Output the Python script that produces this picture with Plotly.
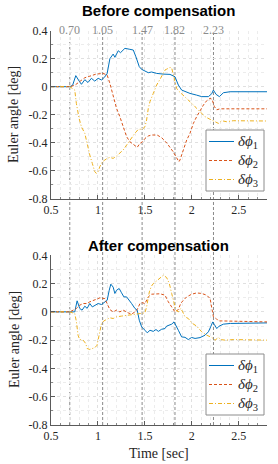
import plotly.graph_objects as go

# ---------------- data ----------------
event_times = [0.70, 1.05, 1.47, 1.82, 2.23]
event_labels = ["0.70", "1.05", "1.47", "1.82", "2.23"]

series_names = ["<i>δϕ</i><sub>1</sub>", "<i>δϕ</i><sub>2</sub>", "<i>δϕ</i><sub>3</sub>"]

# Before compensation
t1_top = [0.50, 0.70, 0.73, 0.764, 0.80, 0.824, 0.86, 0.894, 0.93, 0.966, 1.002, 1.037, 1.073, 1.098, 1.127, 1.162,
          1.18, 1.216, 1.24, 1.287, 1.34, 1.376, 1.404, 1.44, 1.465, 1.50, 1.536, 1.571, 1.625, 1.696, 1.767, 1.82,
          1.856, 1.891, 1.927, 1.98, 2.05, 2.105, 2.176, 2.212, 2.229, 2.258, 2.293, 2.336, 2.407, 2.55, 2.80]
v1_top = [0, 0, 0.01, 0.079, 0.04, 0.017, 0.05, 0.03, 0.06, 0.04, 0.06, 0.048, 0.07, 0.095, 0.20, 0.233,
          0.21, 0.257, 0.243, 0.274, 0.267, 0.262, 0.214, 0.143, 0.124, 0.11, 0.10, 0.105, 0.095, 0.09, 0.088, 0.071,
          0.012, -0.024, -0.036, -0.048, -0.06, -0.071, -0.071, -0.05, -0.024, -0.055, -0.071, -0.043, -0.036, -0.036, -0.036]

t2_top = [0.50, 0.70, 0.753, 0.80, 0.86, 0.913, 0.98, 1.055, 1.098, 1.127, 1.162, 1.198, 1.233, 1.269, 1.305, 1.34,
          1.393, 1.418, 1.447, 1.475, 1.50, 1.536, 1.571, 1.63, 1.68, 1.735, 1.80, 1.862, 1.873, 1.909, 1.945, 1.98,
          2.016, 2.051, 2.087, 2.123, 2.158, 2.194, 2.215, 2.24, 2.265, 2.30, 2.80]
v2_top = [0, 0, 0.01, 0.036, 0.064, 0.075, 0.09, 0.095, 0.083, 0.024, -0.071, -0.155, -0.214, -0.286, -0.357, -0.393,
          -0.424, -0.433, -0.405, -0.393, -0.37, -0.352, -0.345, -0.345, -0.365, -0.404, -0.464, -0.536, -0.524, -0.452,
          -0.381, -0.333, -0.262, -0.214, -0.167, -0.131, -0.10, -0.083, -0.09, -0.143, -0.165, -0.158, -0.158]

t3_top = [0.50, 0.70, 0.753, 0.77, 0.799, 0.824, 0.86, 0.885, 0.913, 0.94, 0.966, 0.984, 1.002, 1.02, 1.048, 1.073,
          1.098, 1.127, 1.162, 1.198, 1.233, 1.269, 1.305, 1.34, 1.393, 1.429, 1.475, 1.50, 1.518, 1.536, 1.554, 1.589,
          1.625, 1.66, 1.696, 1.714, 1.731, 1.749, 1.767, 1.785, 1.802, 1.82, 1.838, 1.856, 1.891, 1.927, 1.98, 2.034,
          2.087, 2.14, 2.194, 2.247, 2.283, 2.318, 2.37, 2.44, 2.80]
v3_top = [0, 0, -0.024, -0.119, -0.226, -0.286, -0.333, -0.417, -0.488, -0.548, -0.607, -0.619, -0.607, -0.571, -0.536,
          -0.524, -0.512, -0.505, -0.512, -0.495, -0.476, -0.452, -0.417, -0.381, -0.333, -0.305, -0.302, -0.286, -0.238,
          -0.155, -0.107, -0.048, 0.012, 0.052, 0.095, 0.119, 0.125, 0.131, 0.138, 0.134, 0.083, 0.024, -0.012, -0.029,
          -0.05, -0.071, -0.107, -0.143, -0.179, -0.214, -0.233, -0.25, -0.262, -0.243, -0.25, -0.243, -0.245]

# After compensation
t1_bot = [0.50, 0.70, 0.753, 0.778, 0.806, 0.831, 0.86, 0.885, 0.913, 0.94, 0.966, 1.002, 1.037, 1.073, 1.098, 1.12,
          1.137, 1.162, 1.18, 1.198, 1.226, 1.251, 1.276, 1.305, 1.329, 1.358, 1.394, 1.418, 1.44, 1.465, 1.50, 1.525,
          1.554, 1.589, 1.618, 1.643, 1.678, 1.714, 1.731, 1.785, 1.81, 1.83, 1.856, 1.891, 1.927, 1.962, 1.998, 2.034,
          2.087, 2.14, 2.176, 2.2, 2.222, 2.24, 2.265, 2.29, 2.336, 2.41, 2.80]
v1_bot = [0, 0, 0.0, 0.078, 0.024, 0.012, 0.04, 0.025, 0.059, 0.035, 0.047, 0.059, 0.052, 0.071, 0.082, 0.153,
          0.196, 0.175, 0.13, 0.153, 0.165, 0.135, 0.106, 0.106, 0.087, 0.059, 0.024, 0.012, -0.059, -0.106, -0.13,
          -0.148, -0.13, -0.138, -0.125, -0.138, -0.123, -0.118, -0.101, -0.087, -0.071, -0.094, -0.13, -0.177, -0.18,
          -0.196, -0.181, -0.188, -0.182, -0.165, -0.141, -0.106, -0.071, -0.09, -0.118, -0.101, -0.087, -0.082, -0.078]

t2_bot = [0.50, 0.70, 0.771, 0.806, 0.842, 0.877, 0.913, 0.966, 1.02, 1.073, 1.098, 1.127, 1.162, 1.198, 1.233, 1.269,
          1.322, 1.358, 1.394, 1.418, 1.447, 1.475, 1.50, 1.536, 1.571, 1.625, 1.66, 1.714, 1.749, 1.785, 1.82, 1.856,
          1.881, 1.909, 1.945, 1.998, 2.051, 2.105, 2.158, 2.194, 2.212, 2.229, 2.258, 2.283, 2.32, 2.41, 2.80]
v2_bot = [0, 0, 0.024, 0.047, 0.059, 0.059, 0.071, 0.087, 0.099, 0.094, 0.059, 0.016, 0.0, 0.012, 0.0, 0.012,
          -0.007, -0.016, 0.0, 0.016, 0.059, 0.065, 0.058, 0.106, 0.125, 0.13, 0.128, 0.118, 0.071, 0.035, 0.0, 0.016,
          0.059, 0.082, 0.106, 0.125, 0.134, 0.13, 0.118, 0.094, 0.024, -0.035, -0.047, -0.064, -0.064, -0.066, -0.071]

t3_bot = [0.50, 0.70, 0.753, 0.771, 0.788, 0.806, 0.842, 0.87, 0.885, 0.913, 0.94, 0.966, 0.99, 1.013, 1.038, 1.063,
          1.091, 1.127, 1.162, 1.198, 1.251, 1.305, 1.358, 1.411, 1.465, 1.50, 1.518, 1.533, 1.547, 1.568, 1.589, 1.625,
          1.66, 1.696, 1.731, 1.76, 1.785, 1.81, 1.83, 1.856, 1.881, 1.902, 1.927, 1.962, 1.998, 2.051, 2.105, 2.158,
          2.212, 2.247, 2.283, 2.308, 2.354, 2.44, 2.80]
v3_bot = [0, 0, -0.012, -0.071, -0.165, -0.196, -0.2, -0.224, -0.259, -0.266, -0.259, -0.254, -0.236, -0.165, -0.082,
          -0.064, -0.054, -0.042, -0.047, -0.035, -0.03, -0.024, -0.02, -0.012, -0.007, -0.007, 0.035, 0.09, 0.141, 0.18,
          0.2, 0.219, 0.236, 0.259, 0.243, 0.2, 0.13, 0.059, 0.012, 0.0, 0.024, 0.0, -0.035, -0.047, -0.078, -0.101,
          -0.141, -0.165, -0.181, -0.2, -0.181, -0.196, -0.2, -0.196, -0.2]

y_ticks = [-0.8, -0.6, -0.4, -0.2, 0, 0.2, 0.4]
y_ticktext = ["-0.8", "-0.6", "-0.4", "-0.2", "0", "0.2", "0.4"]
x_ticks = [0.5, 1, 1.5, 2, 2.5]
x_ticktext = ["0.5", "1", "1.5", "2", "2.5"]

# ---------------- styling ----------------
W, H = 278, 464
ML, MR = 51, 11
colors = ["#0072BD", "#D95319", "#EDB120"]
dashes = ["solid", "3px,2px", "4px,2px,1px,2px"]
SERIF = "Liberation Serif"
SANS = "Liberation Sans"

def py(px):  # pixel row -> paper fraction
    return 1 - px / H

def pxx(px):  # pixel column -> paper fraction (plot area)
    return (px - ML) / (W - ML - MR)

top_dom = [py(198.7), py(30.7)]
bot_dom = [py(425.0), py(255.3)]

fig = go.Figure()
top = [(t1_top, v1_top), (t2_top, v2_top), (t3_top, v3_top)]
bot = [(t1_bot, v1_bot), (t2_bot, v2_bot), (t3_bot, v3_bot)]
for i, (t, v) in enumerate(top):
    fig.add_trace(go.Scatter(x=t, y=v, mode="lines", name=series_names[i], showlegend=False,
                             line=dict(color=colors[i], width=1, dash=dashes[i]),
                             xaxis="x", yaxis="y"))
for i, (t, v) in enumerate(bot):
    fig.add_trace(go.Scatter(x=t, y=v, mode="lines", name=series_names[i], showlegend=False,
                             line=dict(color=colors[i], width=1, dash=dashes[i]),
                             xaxis="x2", yaxis="y2"))

axis_common = dict(showline=True, linecolor="#5a5a5a", linewidth=1, ticks="inside", ticklen=4,
                   tickcolor="#5a5a5a", showgrid=True, gridcolor="#e0e0e0", griddash="dot",
                   zeroline=False, mirror=False, automargin=False,
                   tickfont=dict(family=SERIF, size=12, color="#262626"))
minor_common = dict(dtick=0.1, showgrid=True, gridcolor="#ececec", griddash="dot",
                    ticks="inside", ticklen=2, tickcolor="#888888")
xa = dict(axis_common, range=[0.5, 2.8], tickvals=x_ticks, ticktext=x_ticktext, minor=minor_common)
ya = dict(axis_common, range=[-0.8, 0.4], tickvals=y_ticks, ticktext=y_ticktext, minor=minor_common)

shapes = []
annotations = []
for t, lab in zip(event_times, event_labels):
    shapes.append(dict(type="line", xref="x", yref="paper", x0=t, x1=t, y0=py(425), y1=py(33),
                       line=dict(color="#8a8a8a", width=1, dash="3px,2px"), layer="below"))
    annotations.append(dict(x=t, xref="x", y=py(29.5), yref="paper", text=lab, showarrow=False,
                            xanchor="center", yanchor="middle",
                            font=dict(family=SERIF, size=12, color="#8c8c8c")))

for txt, ypx in [("Before compensation", 10), ("After compensation", 245)]:
    annotations.append(dict(x=pxx(158), xref="paper", y=py(ypx), yref="paper", text=txt, showarrow=False,
                            xanchor="center", yanchor="middle",
                            font=dict(family=SANS, size=15, color="black", weight="bold")))
for ypx in [115, 340]:
    annotations.append(dict(x=pxx(14), xref="paper", y=py(ypx), yref="paper", text="Euler angle [deg]",
                            showarrow=False, textangle=-90, xanchor="center", yanchor="middle",
                            font=dict(family=SERIF, size=14, color="#262626")))
annotations.append(dict(x=pxx(159), xref="paper", y=py(453), yref="paper", text="Time [sec]", showarrow=False,
                        xanchor="center", yanchor="middle", font=dict(family=SERIF, size=14, color="#262626")))

# legends (box, line samples, labels) drawn in pixel-derived paper coordinates
for box_top in [130, 354]:
    shapes.append(dict(type="rect", xref="paper", yref="paper", x0=pxx(206), x1=pxx(264),
                       y0=py(box_top + 61), y1=py(box_top), fillcolor="white",
                       line=dict(color="#8c8c8c", width=1), layer="above"))
    for i in range(3):
        yy = box_top + 11.5 + 19 * i
        shapes.append(dict(type="line", xref="paper", yref="paper", x0=pxx(209), x1=pxx(234),
                           y0=py(yy), y1=py(yy), layer="above",
                           line=dict(color=colors[i], width=1, dash=dashes[i])))
        annotations.append(dict(x=pxx(235.5), xref="paper", y=py(yy), yref="paper", text=series_names[i],
                                showarrow=False, xanchor="left", yanchor="middle",
                                font=dict(family=SERIF, size=15, color="#262626")))

fig.update_layout(
    width=W, height=H, margin=dict(l=ML, r=MR, t=0, b=0, pad=0, autoexpand=False),
    paper_bgcolor="white", plot_bgcolor="rgba(0,0,0,0)",
    xaxis=dict(xa, domain=[0, 1], anchor="y"),
    yaxis=dict(ya, domain=top_dom, anchor="x"),
    xaxis2=dict(xa, domain=[0, 1], anchor="y2"),
    yaxis2=dict(ya, domain=bot_dom, anchor="x2"),
    shapes=shapes, annotations=annotations, showlegend=False,
)

fig.write_html("out.html", config={"displayModeBar": False},
               post_script="document.body.style.margin='0';")
